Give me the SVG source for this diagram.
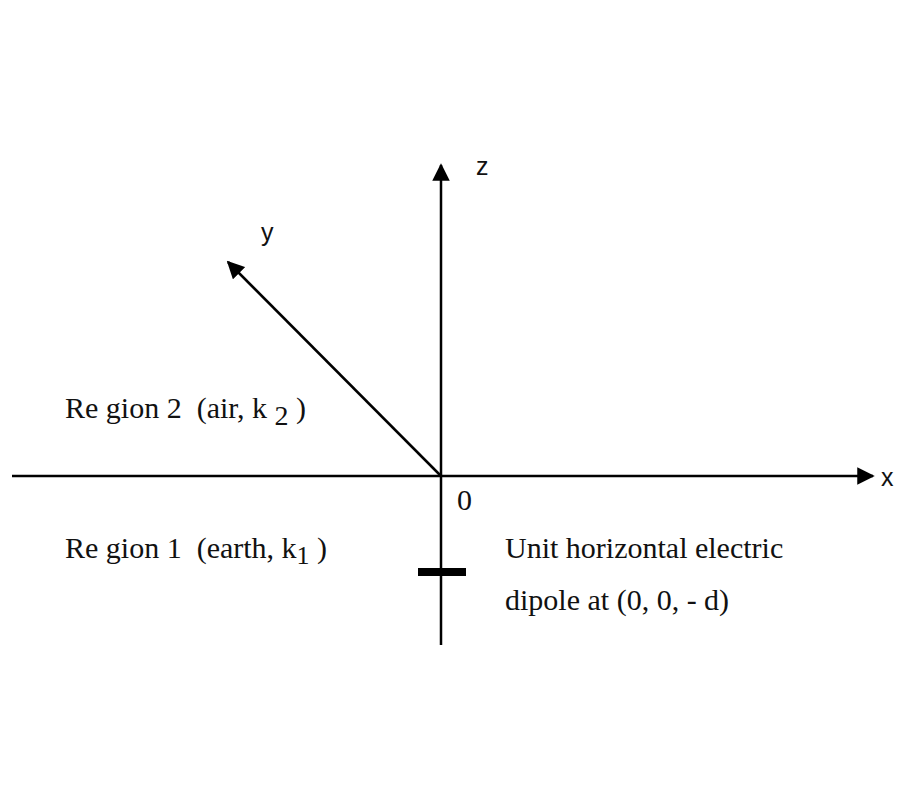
<svg xmlns="http://www.w3.org/2000/svg" width="900" height="800" viewBox="0 0 900 800">
<style>
.ax{stroke:#000;stroke-width:2.5;fill:none}
.serif{font-family:"Liberation Serif","Times New Roman",serif;font-size:30px;fill:#111;white-space:pre}
.sans{font-family:"Liberation Sans",Arial,sans-serif;font-size:25px;fill:#111}
</style>
<defs>
<marker id="ah2" viewBox="0 0 10 10" refX="9" refY="5" markerWidth="7" markerHeight="7" orient="auto">
<path d="M0,0 L10,5 L0,10 z" fill="#000"/>
</marker>
</defs>
<rect width="900" height="800" fill="#fff"/>
<g id="connectors">
<line class="ax" x1="12" y1="476" x2="873" y2="476" marker-end="url(#ah2)"/>
<line class="ax" x1="441" y1="645" x2="441" y2="165" marker-end="url(#ah2)"/>
<line class="ax" x1="441" y1="476" x2="228" y2="262" marker-end="url(#ah2)"/>
</g>
<g id="dipole">
<rect x="418" y="568" width="48" height="8" fill="#000"/>
</g>
<g id="labels">
<text class="sans" x="476" y="175">z</text>
<text class="sans" x="261" y="241">y</text>
<text class="sans" x="881" y="486">x</text>
<text class="serif" x="457" y="510" font-size="26">0</text>
<text class="serif" x="65" y="418">Re gion 2  (air, k <tspan font-size="28" dy="7">2</tspan><tspan dy="-7"> )</tspan></text>
<text class="serif" x="65" y="558">Re gion 1  (earth, k<tspan font-size="26" dy="6">1</tspan><tspan dy="-6"> )</tspan></text>
<text class="serif" x="505" y="558">Unit horizontal electric</text>
<text class="serif" x="505" y="610">dipole at (0, 0, - d)</text>
</g>
</svg>
